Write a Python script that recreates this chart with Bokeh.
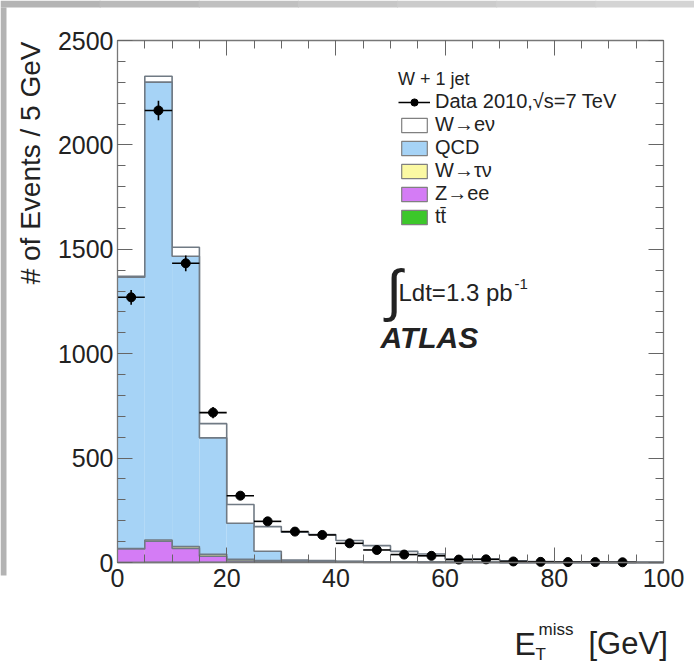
import math
from bokeh.plotting import figure
from bokeh.models import (Range1d, LinearAxis, Label, Legend, LegendItem, BoxAnnotation,
                          FixedTicker, CustomJSTickFormatter, GlobalInlineStyleSheet,
                          InlineStyleSheet)
from bokeh.embed import file_html
from bokeh.resources import INLINE

# ---------------- data ----------------
bin_low = [0, 5, 10, 15, 20, 25, 30, 35, 40, 45, 50, 55, 60, 65, 70, 75, 80, 85, 90, 95]
bin_high = [5, 10, 15, 20, 25, 30, 35, 40, 45, 50, 55, 60, 65, 70, 75, 80, 85, 90, 95, 100]
data_counts = [1270, 2165, 1433, 718, 320, 197, 148, 132, 92, 60, 38, 32, 14, 15, 5, 3, 2, 2, 1, 0]
w_enu = [4, 28, 43, 68, 90, 118, 133, 125, 100, 77, 51, 39, 15, 15, 7, 4, 3, 2, 1, 1]
qcd = [1300, 2193, 1390, 558, 173, 45, 5, 3, 1, 0.5, 0, 0, 0, 0, 0, 0, 0, 0, 0, 0]
w_taunu = [2, 6, 9, 9, 8, 6, 5, 4, 3, 2, 1.5, 1, 0.6, 0.5, 0.3, 0.2, 0.2, 0.1, 0.1, 0.05]
z_ee = [64, 101, 67, 29, 6, 2, 1, 1, 0.5, 0.5, 0.3, 0.2, 0.1, 0.1, 0.1, 0, 0, 0, 0, 0]
ttbar = [0.3, 0.5, 0.8, 1, 1, 1, 1, 1, 0.9, 0.8, 0.7, 0.6, 0.5, 0.4, 0.3, 0.3, 0.2, 0.2, 0.1, 0.1]

x_lim = [0, 100]
y_lim = [0, 2500]
x_ticks = [0, 20, 40, 60, 80, 100]
x_minor = list(range(0, 101, 5))
y_ticks = [0, 500, 1000, 1500, 2000, 2500]
y_minor = list(range(0, 2501, 100))

names = ["W\u2192e\u03bd", "QCD", "W\u2192\u03c4\u03bd", "Z\u2192ee", "tt\u0304"]
colors = ["#ffffff", "#a6d3f6", "#fbf9a3", "#d47cf5", "#3cc72a"]

FONT = "Liberation Sans"
OUTLINE = "#707a84"
TXT = "#222222"

# ---------------- layout (pixel box of the plotting region) ----------------
W, H = 694, 664
FL, FR, FT, FB = 117, 663, 40, 562
sx = (FR - FL) / (x_lim[1] - x_lim[0])
sy = (FB - FT) / (y_lim[1] - y_lim[0])
xr = Range1d(x_lim[0] - FL / sx, x_lim[0] + (W - FL) / sx)
yr = Range1d(y_lim[0] - (H - FB) / sy, y_lim[0] + FB / sy)

# ---------------- stacking ----------------
c1 = list(ttbar)
c2 = [a + b for a, b in zip(c1, z_ee)]
c3 = [a + b for a, b in zip(c2, w_taunu)]
c4 = [a + b for a, b in zip(c3, qcd)]
c5 = [a + b for a, b in zip(c4, w_enu)]
stack_tops = [c5, c4, c3, c2, c1]

p = figure(width=W, height=H, x_range=xr, y_range=yr, output_backend="svg",
           toolbar_location=None, x_axis_location=None, y_axis_location=None,
           min_border=0)
p.stylesheets = [GlobalInlineStyleSheet(css="html, body { margin: 0; padding: 0; overflow: hidden; }"),
                 InlineStyleSheet(css=":host { overflow: hidden; }")]
p.styles = {"overflow": "hidden"}
p.grid.visible = False
p.outline_line_color = None
p.background_fill_color = "white"
p.border_fill_color = "white"

# grey slide border strips (screen px from bottom-left)
strips = [(0, 6, H - 575, H - 7, "#b3b3b3")]
grey_top = ["#b4b4b4", "#bababa", "#c0c0c0", "#c6c6c6", "#cbcbcb", "#d0d0d0", "#d4d4d4"]
seg = W / len(grey_top)
for i, c in enumerate(grey_top):
    strips.append((i * seg, min(W, (i + 1) * seg + 1), H - 7, H, c))
for l, r, b, t, c in strips:
    p.add_layout(BoxAnnotation(left=l, right=r, bottom=b, top=t, left_units="screen",
                               right_units="screen", bottom_units="screen", top_units="screen",
                               fill_color=c, fill_alpha=1, line_color=None, level="underlay"))

edges = bin_low + [bin_high[-1]]
for top, col in zip(stack_tops, colors):
    p.quad(left=bin_low, right=bin_high, bottom=0, top=top, fill_color=col, line_color=None)
    p.step(x=edges, y=list(top) + [top[-1]], mode="after", line_color=OUTLINE, line_width=1.6)

# data points
dx = [(l + h) / 2 for l, h, n in zip(bin_low, bin_high, data_counts) if n > 0]
dl = [l for l, n in zip(bin_low, data_counts) if n > 0]
dh = [h for h, n in zip(bin_high, data_counts) if n > 0]
dn = [n for n in data_counts if n > 0]
de = [math.sqrt(n) for n in dn]
hseg = p.segment(x0=dl, x1=dh, y0=dn, y1=dn, line_color="black", line_width=1.6)
p.segment(x0=dx, x1=dx, y0=[n - e for n, e in zip(dn, de)], y1=[n + e for n, e in zip(dn, de)],
          line_color="black", line_width=1.6)
pts = p.scatter(x=dx, y=dn, size=9, color="black")

# legend proxies (zero-height boxes on the baseline, hidden under the axis)
proxies = []
for nm, col in zip(names, colors):
    r = p.quad(left=[bin_low[0]], right=[bin_high[0]], top=[y_lim[0]], bottom=[y_lim[0]],
               fill_color=col, line_color="#808080", line_width=1.2)
    proxies.append(r)

items = [LegendItem(label="Data 2010,\u221as=7 TeV", renderers=[hseg, pts])]
items += [LegendItem(label=nm, renderers=[r]) for nm, r in zip(names, proxies)]
leg = Legend(items=items, location=(394, 432), title="W + 1 jet",
             title_text_font=FONT, title_text_font_size="18px", title_text_font_style="normal",
             title_text_color=TXT, title_standoff=0,
             label_text_font=FONT, label_text_font_size="20px", label_text_color=TXT,
             glyph_width=32, glyph_height=18, label_height=18, spacing=0, label_standoff=5,
             padding=4, margin=0, border_line_alpha=0, background_fill_alpha=0)
p.add_layout(leg)

# ---------------- axes ----------------
def style_axis(ax, ticks, minor, labels=True):
    ax.ticker = FixedTicker(ticks=ticks, minor_ticks=minor)
    ax.axis_line_color = "#777777"
    ax.axis_line_width = 1.3
    ax.major_tick_line_color = "#666666"
    ax.minor_tick_line_color = "#666666"
    ax.major_tick_in = 15
    ax.major_tick_out = 0
    ax.minor_tick_in = 8
    ax.minor_tick_out = 0
    ax.major_label_text_font = FONT
    ax.major_label_text_font_size = "25px"
    ax.major_label_text_color = TXT
    ax.major_label_standoff = 6
    if not labels:
        ax.formatter = CustomJSTickFormatter(code="return ''")

x_bottom = LinearAxis(fixed_location=y_lim[0], bounds=tuple(x_lim))
x_top = LinearAxis(fixed_location=y_lim[1], bounds=tuple(x_lim))
y_left = LinearAxis(fixed_location=x_lim[0], bounds=tuple(y_lim))
y_right = LinearAxis(fixed_location=x_lim[1], bounds=tuple(y_lim))
style_axis(x_bottom, x_ticks, x_minor)
style_axis(y_left, y_ticks, y_minor)
y_left.major_label_standoff = 4
style_axis(x_top, x_ticks, x_minor, labels=False)
style_axis(y_right, y_ticks, y_minor, labels=False)
p.add_layout(x_bottom, "below")
p.add_layout(x_top, "above")
p.add_layout(y_left, "left")
p.add_layout(y_right, "right")

# ---------------- texts (screen px: x from left, y = centre from top) ----------------
def lab(x, y, text, size, **kw):
    kw.setdefault("text_baseline", "middle")
    l = Label(x=x, y=H - y, x_units="screen", y_units="screen", text=text,
              text_font=FONT, text_font_size=size, text_color=TXT, **kw)
    p.add_layout(l)
    return l

# y-axis title (top-aligned, as in ROOT)
lab(30, 41, "# of Events / 5 GeV", "28px", angle=math.pi / 2, text_align="right")
# x-axis title
lab(514, 643, "E", "32px")
lab(538, 629, "miss", "17px")
lab(535, 654, "T", "17px")
lab(588, 643, "[GeV]", "31px")

# luminosity and ATLAS
lab(386, 289, "\u222b", "57px")
lab(398, 292, "Ldt=1.3 pb", "24px")
lab(514, 283, "-1", "15px")
lab(380, 337, "ATLAS", "30px", text_font_style="bold italic")

open("out.html", "w").write(file_html(p, INLINE))
